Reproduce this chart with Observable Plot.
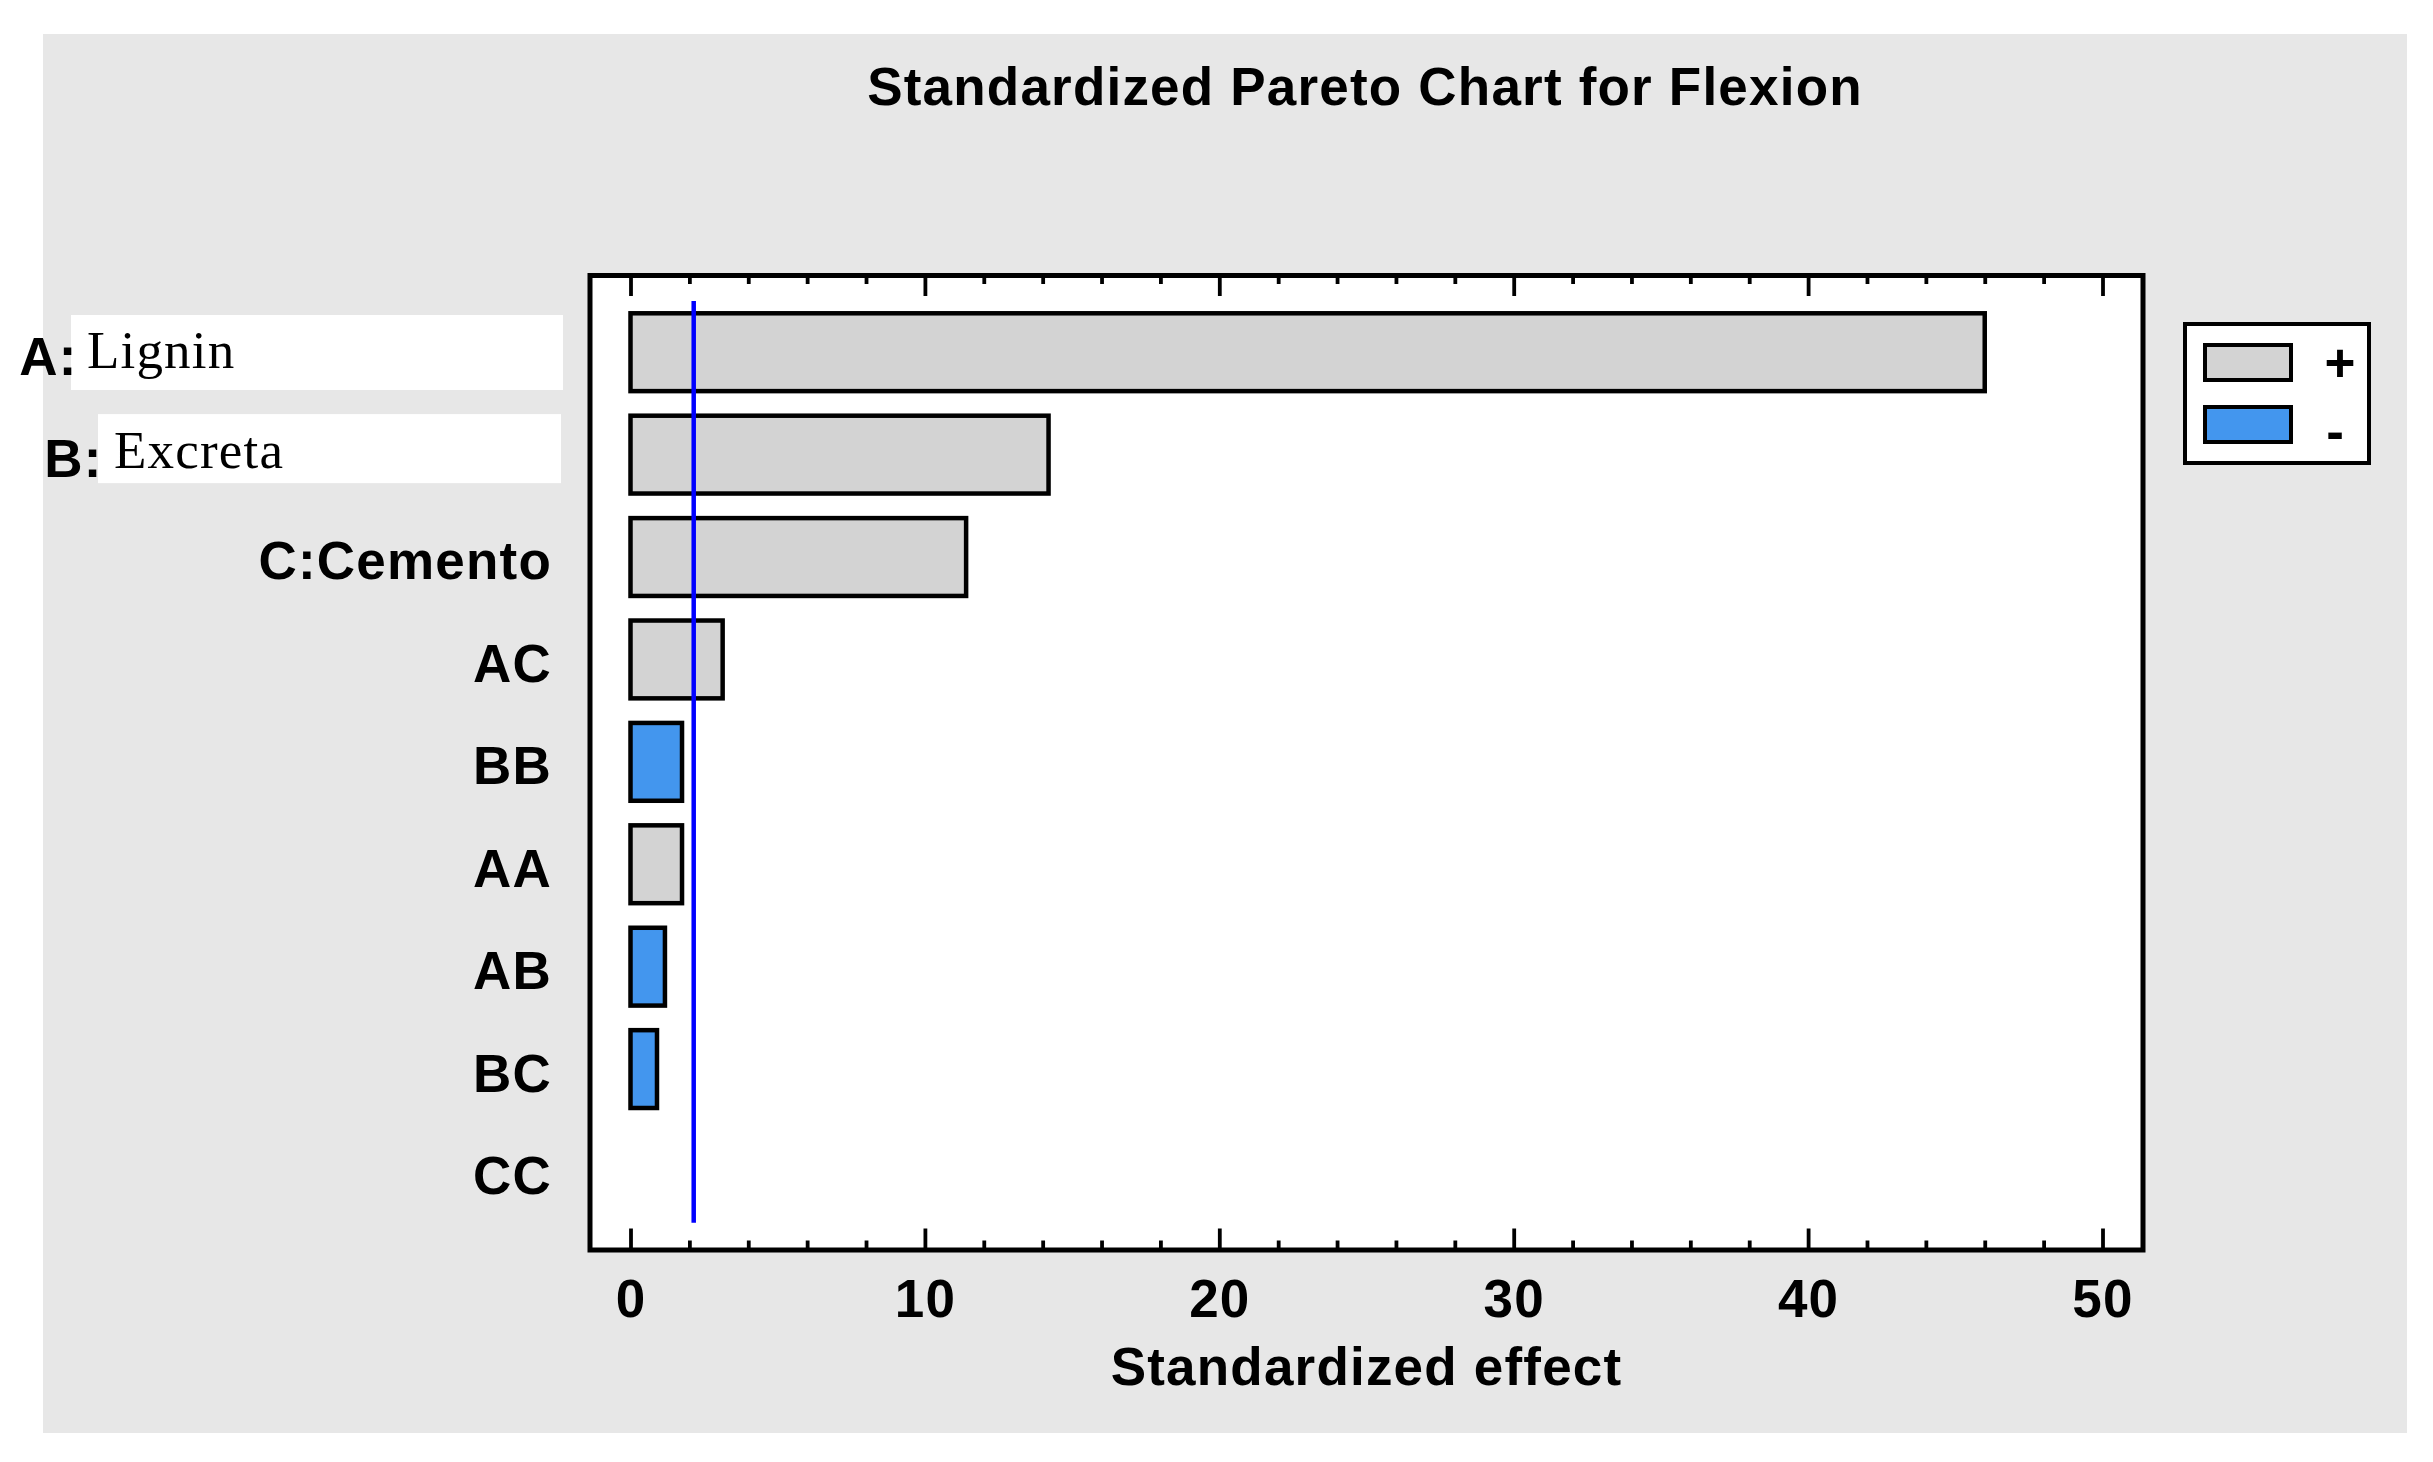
<!DOCTYPE html>
<html>
<head>
<meta charset="utf-8">
<script src="https://cdn.jsdelivr.net/npm/d3@7"></script>
<script src="https://cdn.jsdelivr.net/npm/@observablehq/plot@0.6"></script>
<style>
  html, body { margin: 0; padding: 0; background: #ffffff; overflow: hidden; width: 2433px; height: 1462px; }
  #bg { position: absolute; left: 43px; top: 34px; width: 2364px; height: 1399px; background: #e7e7e7; }
  #chart { position: absolute; left: 0; top: 0; }
  #chart svg text { letter-spacing: 1.2px; }
  #title { position: absolute; left: 365px; top: 60px; width: 2000px; text-align: center;
           font: bold 53px "Liberation Sans", Arial, sans-serif; line-height: 53px; letter-spacing: 1.2px; color: #000; }
  #legend { position: absolute; left: 2183px; top: 322px; width: 188px; height: 143px; box-sizing: border-box;
            border: 4.5px solid #000; background: #fff; }
  .sw { position: absolute; left: 16px; width: 90px; height: 39px; box-sizing: border-box; border: 4.5px solid #000; }
  .lt { position: absolute; width: 60px; text-align: center; font: bold 53px "Liberation Sans", Arial, sans-serif; line-height: 53px; color: #000; }
</style>
</head>
<body>
<div id="bg"></div>
<div id="chart"></div>
<div id="title"></div>
<div id="legend"></div>
<script>
// ---- data ----
const title = "Standardized Pareto Chart for Flexion";
const xLabel = "Standardized effect";
const terms = ["A:Lignin", "B:Excreta", "C:Cemento", "AC", "BB", "AA", "AB", "BC", "CC"];
const effects = [46.0, 14.2, 11.4, 3.13, 1.75, 1.75, 1.17, 0.90, 0.0];
const signs = ["+", "+", "+", "+", "-", "+", "-", "-", "+"];
const signDomain = ["+", "-"];
const signColors = ["#d3d3d3", "#4396ee"];
const majorTicks = [0, 10, 20, 30, 40, 50];
const minorTicks = [2, 4, 6, 8, 12, 14, 16, 18, 22, 24, 26, 28, 32, 34, 36, 38, 42, 44, 46, 48];
const criticalValue = 2.13;
// terms whose labels are shown as prefix + boxed serif name
const boxedTerms = ["A:Lignin", "B:Excreta"];
const boxedPrefix = ["A:", "B:"];
const boxedName = ["Lignin", "Excreta"];

const table = terms.map((t, i) => ({term: t, effect: effects[i], sign: signs[i]}));

// ---- layout ----
const W = 2433, H = 1462;
const mL = 589.5, mR = 290.5, mT = 275, mB = 212.5;
const frameH = H - mT - mB;
const sans = "'Liberation Sans', Arial, sans-serif";
const serif = "'Liberation Serif', 'Times New Roman', serif";
const FS = 53;

document.getElementById("title").textContent = title;

const plot = Plot.plot({
  width: W,
  height: H,
  marginLeft: mL, marginRight: mR, marginTop: mT, marginBottom: mB,
  style: {background: "transparent", overflow: "visible", fontFamily: sans, fontSize: FS + "px", color: "#000"},
  x: {domain: [0, 50], range: [630.5, 2102.5]},
  y: {domain: terms, range: [301, 1222.7], paddingInner: 0.24, paddingOuter: 0.12, round: false},
  color: {domain: signDomain, range: signColors},
  marks: [
    Plot.frame({fill: "white", stroke: "none"}),
    // inward ticks (bottom & top)
    Plot.ruleX(majorTicks, {x: d => d, stroke: "#000", strokeWidth: 3.8, insetTop: frameH - 21}),
    Plot.ruleX(minorTicks, {x: d => d, stroke: "#000", strokeWidth: 3.8, insetTop: frameH - 9}),
    Plot.ruleX(majorTicks, {x: d => d, stroke: "#000", strokeWidth: 3.8, insetBottom: frameH - 21}),
    Plot.ruleX(minorTicks, {x: d => d, stroke: "#000", strokeWidth: 3.8, insetBottom: frameH - 9}),
    Plot.barX(table.filter(d => d.effect > 0), {x: "effect", y: "term", fill: "sign", stroke: "#000", strokeWidth: 4.5}),
    Plot.ruleX([criticalValue], {x: d => d, stroke: "#0000ff", strokeWidth: 4.5, insetTop: 26, insetBottom: 26.8}),
    Plot.frame({stroke: "#000", strokeWidth: 5}),
    Plot.axisX(majorTicks, {anchor: "bottom", tickSize: 0, tickPadding: 29, fontSize: FS, fontWeight: "bold", label: null}),
    Plot.text([xLabel], {frameAnchor: "bottom", text: d => d, dy: 135, fontSize: FS, fontWeight: "bold"}),
    Plot.axisY({anchor: "left", tickSize: 0, tickPadding: 38, dy: 5, fontSize: FS, fontWeight: "bold", label: null,
                tickFormat: d => boxedTerms.includes(d) ? "" : d}),
    // boxed labels for A and B
    Plot.cell([boxedTerms[0]], {y: d => d, fill: "white", insetLeft: -(mL - 71), insetRight: (W - mR) - 563, insetTop: 1.7, insetBottom: 1.1}),
    Plot.cell([boxedTerms[1]], {y: d => d, fill: "white", insetLeft: -(mL - 98), insetRight: (W - mR) - 561, insetTop: -1.6, insetBottom: 10.4}),
    Plot.text([0], {y: i => boxedTerms[i], text: i => boxedPrefix[i], frameAnchor: "left", textAnchor: "end", dx: 77 - mL, dy: 5, fontSize: FS, fontWeight: "bold"}),
    Plot.text([1], {y: i => boxedTerms[i], text: i => boxedPrefix[i], frameAnchor: "left", textAnchor: "end", dx: 102 - mL, dy: 5, fontSize: FS, fontWeight: "bold"}),
    Plot.text([0], {y: i => boxedTerms[i], text: i => boxedName[i], frameAnchor: "left", textAnchor: "start", dx: 86.4 - mL, dy: -2, fontSize: FS, fontFamily: serif, fontWeight: "normal"}),
    Plot.text([1], {y: i => boxedTerms[i], text: i => boxedName[i], frameAnchor: "left", textAnchor: "start", dx: 113.4 - mL, dy: -4.5, fontSize: FS, fontFamily: serif, fontWeight: "normal"})
  ]
});
document.getElementById("chart").appendChild(plot);

// ---- legend ----
const legend = document.getElementById("legend");
const legendTops = [16.5, 78.5];
const textTops = [10, 78.6];
const textLefts = [2306 - 2183, 2301 - 2183];
signDomain.forEach((s, i) => {
  const sw = document.createElement("div");
  sw.className = "sw";
  sw.style.top = legendTops[i] + "px";
  sw.style.background = signColors[i];
  legend.appendChild(sw);
  const t = document.createElement("div");
  t.className = "lt";
  t.style.top = textTops[i] + "px";
  t.style.left = textLefts[i] + "px";
  t.textContent = s;
  legend.appendChild(t);
});
</script>
</body>
</html>
